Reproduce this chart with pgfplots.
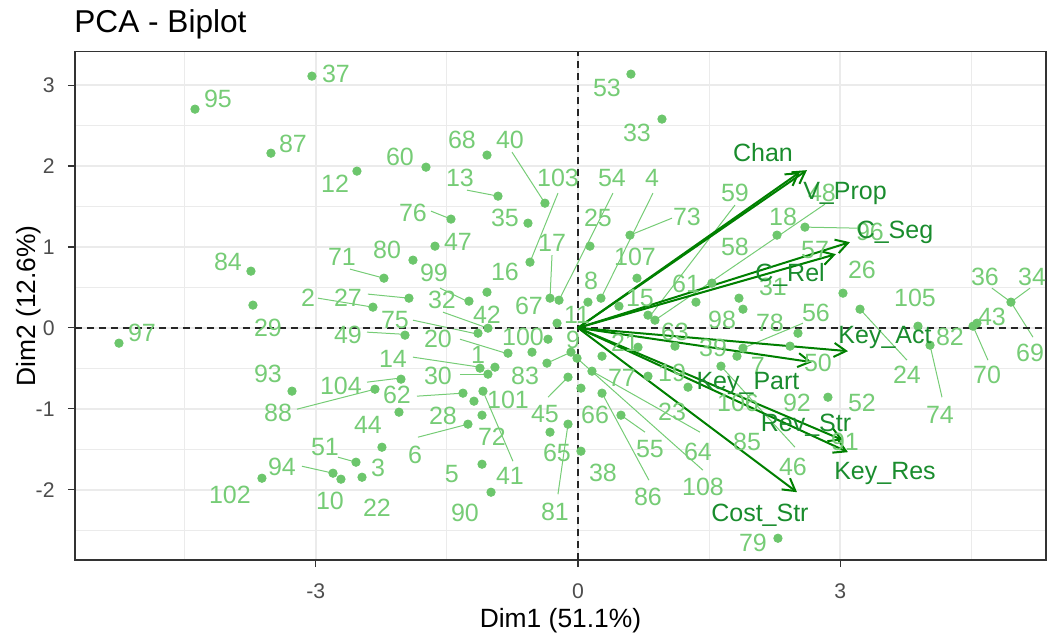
\documentclass[border=0pt]{standalone}
\usepackage{fontspec}
\setmainfont{Liberation Sans}
\usepackage{pgfplots}
\pgfplotsset{compat=1.18}
\usetikzlibrary{arrows.meta}
\definecolor{ptg}{RGB}{108,198,108}
\definecolor{lbg}{RGB}{118,204,118}
\definecolor{arg}{RGB}{0,128,0}
\definecolor{vtg}{RGB}{25,140,45}
\definecolor{gridc}{RGB}{235,235,235}
\definecolor{tickc}{RGB}{77,77,77}
\definecolor{framec}{RGB}{51,51,51}
\begin{document}
\begin{tikzpicture}
\begin{axis}[
  scale only axis, width=485.5pt, height=254.2pt,
  xmin=-5.755, xmax=5.355, ymin=-2.87, ymax=3.413,
  xtick={-3,0,3}, xticklabels={-3,0,3},
  ytick={-2,-1,0,1,2,3}, yticklabels={-2,-1,0,1,2,3},
  minor xtick={-4.5,-1.5,1.5,4.5},
  minor ytick={-2.5,-1.5,-0.5,0.5,1.5,2.5},
  grid=both,
  major grid style={gridc, line width=0.9pt},
  minor grid style={gridc, line width=0.5pt},
  tick align=outside, major tick length=3.5pt, minor tick length=0pt,
  tick pos=left,
  tick style={framec, line width=0.6pt},
  axis line style={framec, line width=0.6pt},
  ticklabel style={font=\fontsize{10.6}{12}\selectfont, text=tickc},
  xticklabel style={anchor=base, yshift=-15.9pt},
  yticklabel style={anchor=east, inner sep=0pt, xshift=-6.5pt},
  xlabel={Dim1 (51.1\%)}, ylabel={Dim2 (12.6\%)},
  label style={font=\fontsize{13.2}{15}\selectfont},
  xlabel style={at={(axis description cs:0.5,-0.1319)}, anchor=base},
  ylabel style={at={(axis description cs:-0.04017,0.5)}, anchor=base},
  title={PCA - Biplot},
  title style={at={(axis description cs:-0.001,1.0368)}, anchor=base west, yshift=-6pt, inner sep=0pt, font=\fontsize{15.8}{18}\selectfont},
]
% individuals
\addplot[only marks, mark=*, mark size=2.1pt, color=ptg, mark options={draw=ptg, fill=ptg}] table {
x y
-3.044 3.111
-4.382 2.703
-3.513 2.159
-2.529 1.937
-1.739 1.986
-1.041 2.135
-0.915 1.628
-0.378 1.541
-1.453 1.344
-0.572 1.294
-1.636 1.010
-1.888 0.837
-0.549 0.812
-1.041 0.441
-1.247 0.330
-1.934 0.367
-2.220 0.614
-2.346 0.256
-3.742 0.701
-3.719 0.281
-5.252 -0.189
-0.320 0.367
-0.217 0.342
0.114 0.318
0.263 0.367
0.137 1.010
0.595 1.146
0.675 0.614
0.469 0.268
0.606 3.136
0.961 2.580
0.801 0.157
0.881 0.095
1.350 0.318
1.533 0.553
1.842 0.367
1.888 0.231
2.277 1.146
2.597 1.245
3.032 0.429
3.227 0.231
4.954 0.318
4.565 0.058
4.520 0.021
3.890 0.021
4.028 -0.214
2.517 -0.066
2.426 -0.226
1.888 -0.251
1.819 -0.350
1.636 -0.473
2.860 -0.857
2.288 -2.600
-0.240 0.058
-0.343 -0.140
-1.144 -0.066
-1.979 -0.090
-0.801 -0.313
-0.526 -0.300
-0.080 -0.300
-0.011 -0.375
0.275 -0.350
-0.355 -0.436
-1.121 -0.498
-1.030 -0.572
-0.950 -0.486
0.160 -0.535
-0.114 -0.609
-2.025 -0.634
-2.048 -1.042
-1.316 -0.807
-1.190 -0.906
-1.087 -0.782
0.034 -0.745
0.275 -0.807
-1.098 -1.079
-1.259 -1.190
-0.320 -1.289
-0.114 -1.190
0.492 -1.079
0.034 -1.524
-1.098 -1.685
-0.995 -2.031
-3.272 -0.782
-2.323 -0.758
-2.243 -1.475
-2.540 -1.660
-2.471 -1.846
-2.803 -1.796
-2.712 -1.870
-3.616 -1.858
0.687 -0.239
1.110 -0.226
0.801 -0.597
1.259 -0.733
-1.030 -0.004
};
% label leader segments
\addplot[lbg, line width=0.5pt, quiver={u=\thisrow{x2}-\thisrow{x}, v=\thisrow{y2}-\thisrow{y}}] table {
x y x2 y2
-2.609 0.726 -2.220 0.614
-0.755 2.172 -0.378 1.541
-1.270 1.702 -0.915 1.628
-0.229 1.665 -0.549 0.812
-1.682 1.443 -1.453 1.344
0.400 1.665 -0.217 0.342
0.858 1.665 0.263 0.367
1.076 1.356 0.595 1.146
-0.297 0.899 -0.320 0.367
1.796 1.517 0.824 0.145
2.826 1.529 0.881 0.095
2.597 1.245 3.204 1.232
4.737 0.491 4.954 0.318
5.172 0.491 4.954 0.318
3.227 0.231 3.764 -0.399
4.028 -0.214 4.165 -0.857
4.520 0.021 4.691 -0.399
4.954 0.318 5.206 -0.115
1.636 -0.473 2.483 -1.475
2.574 0.058 1.888 -0.251
-2.975 0.367 -2.346 0.256
-2.403 0.417 -1.934 0.367
-1.579 0.491 -1.247 0.318
-1.545 0.194 -1.030 -0.004
-1.888 0.095 -1.144 -0.078
-2.414 -0.053 -2.014 -0.078
-1.350 -0.140 -0.789 -0.325
-1.888 -0.362 -1.121 -0.486
-1.350 -0.572 -1.030 -0.572
-2.414 -0.671 -2.037 -0.621
-3.215 -1.005 -2.323 -0.758
-1.842 -0.844 -1.316 -0.807
-1.087 -0.782 -0.744 -1.648
-0.355 -0.436 -0.080 -0.300
-0.343 -0.857 -0.114 -0.609
-1.831 -1.351 -1.259 -1.190
-0.229 -2.056 -0.114 -1.190
0.767 -1.289 0.492 -1.079
0.812 -1.883 0.275 -0.807
1.396 -1.289 0.160 -0.535
1.430 -1.759 -0.011 -0.375
-2.746 -1.598 -2.540 -1.660
-3.158 -1.710 -2.803 -1.796
};
% individual labels
\addplot[draw=none, mark=none, nodes near coords={\pgfplotspointmeta}, point meta=explicit symbolic,
  every node near coord/.append style={anchor=center, inner sep=0pt, text=lbg, font=\fontsize{12.5}{14}\selectfont}]
  table[meta=lab] {
x y lab
-2.769 3.136 37
-4.119 2.827 95
-3.261 2.271 87
-2.780 1.776 12
-2.037 2.110 60
-1.327 2.320 68
-0.778 2.320 40
-1.350 1.850 13
-0.229 1.850 103
0.332 2.963 53
0.675 2.407 33
0.389 1.850 54
0.847 1.850 4
-1.888 1.418 76
-0.835 1.356 35
0.229 1.356 25
1.247 1.368 73
-1.373 1.059 47
-0.297 1.047 17
0.652 0.874 107
-1.648 0.676 99
-0.835 0.689 16
0.149 0.577 8
0.709 0.367 15
1.236 0.540 61
-1.556 0.342 32
-0.561 0.268 67
-4.005 0.812 84
-2.701 0.874 71
-2.185 0.960 80
-3.089 0.367 2
-2.632 0.367 27
-3.547 -0.004 29
-4.989 -0.066 97
-2.094 0.095 75
-1.041 0.157 42
-0.011 0.157 11
-2.632 -0.090 49
-1.602 -0.140 20
-0.629 -0.115 100
-0.057 -0.152 9
0.538 -0.189 21
1.110 -0.053 63
1.648 0.095 98
2.197 0.058 78
2.723 0.182 56
1.545 -0.251 39
-2.117 -0.387 14
-1.144 -0.337 1
-1.602 -0.597 30
-0.606 -0.597 83
0.503 -0.622 77
1.076 -0.560 19
2.059 -0.473 7
2.746 -0.436 50
-3.547 -0.572 93
-2.712 -0.721 104
-2.071 -0.832 62
-0.801 -0.894 101
-3.432 -1.054 88
-1.545 -1.091 28
-0.378 -1.067 45
0.195 -1.079 66
1.076 -1.042 23
-2.403 -1.203 44
-0.984 -1.351 72
-2.895 -1.475 51
-1.865 -1.574 6
-0.240 -1.549 65
0.824 -1.499 55
1.373 -1.536 64
-3.387 -1.722 94
-2.288 -1.734 3
-1.442 -1.808 5
-0.778 -1.833 41
0.286 -1.796 38
1.430 -1.969 108
0.801 -2.093 86
-3.982 -2.068 102
-2.838 -2.142 10
-2.300 -2.229 22
-1.293 -2.291 90
-0.263 -2.278 81
2.002 -2.661 79
1.796 1.665 59
2.792 1.665 48
2.346 1.368 18
3.341 1.183 96
1.796 0.998 58
2.712 0.960 57
2.231 0.503 31
3.249 0.713 26
4.657 0.627 36
5.195 0.627 34
3.856 0.367 105
4.737 0.132 43
4.256 -0.115 82
5.172 -0.313 69
3.764 -0.585 24
4.680 -0.585 70
2.506 -0.931 92
3.249 -0.931 52
4.142 -1.079 74
1.934 -1.413 85
3.055 -1.413 91
2.460 -1.722 46
1.831 -0.931 106
};
% zero lines
\addplot[black!85, line width=0.8pt, dash pattern=on 3.5pt off 2.5pt] coordinates {(-5.755,0) (5.355,0)};
\addplot[black!85, line width=0.8pt, dash pattern=on 3.5pt off 2.5pt] coordinates {(0,-2.87) (0,3.413)};
% variable arrows
\addplot[arg, line width=1pt, -{Straight Barb[length=6pt, width=7pt]}, quiver={u=\thisrow{u}, v=\thisrow{v}}] table {
x y u v
0 0 2.620 1.949
0 0 2.540 1.925
0 0 3.112 1.059
0 0 2.952 0.911
0 0 3.089 -0.288
0 0 2.677 -0.424
0 0 3.032 -1.388
0 0 3.089 -1.536
0 0 2.506 -2.031
};
% variable labels
\addplot[draw=none, mark=none, nodes near coords={\pgfplotspointmeta}, point meta=explicit symbolic,
  every node near coord/.append style={anchor=center, inner sep=0pt, text=vtg, font=\fontsize{12.5}{14}\selectfont}]
  table[meta=lab] {
x y lab
2.117 2.172 Chan
3.055 1.665 V\_Prop
3.627 1.183 C\_Seg
2.426 0.651 C\_Rel
3.513 -0.115 Key\_Act
1.945 -0.684 Key\_Part
2.609 -1.203 Rev\_Str
3.513 -1.796 Key\_Res
2.082 -2.315 Cost\_Str
};
\end{axis}
\pgfresetboundingbox
\path[use as bounding box] ([xshift=-37.5pt, yshift=-36.5pt]current axis.south west) rectangle ([xshift=1pt, yshift=25.85pt]current axis.north east);
\end{tikzpicture}
\end{document}
